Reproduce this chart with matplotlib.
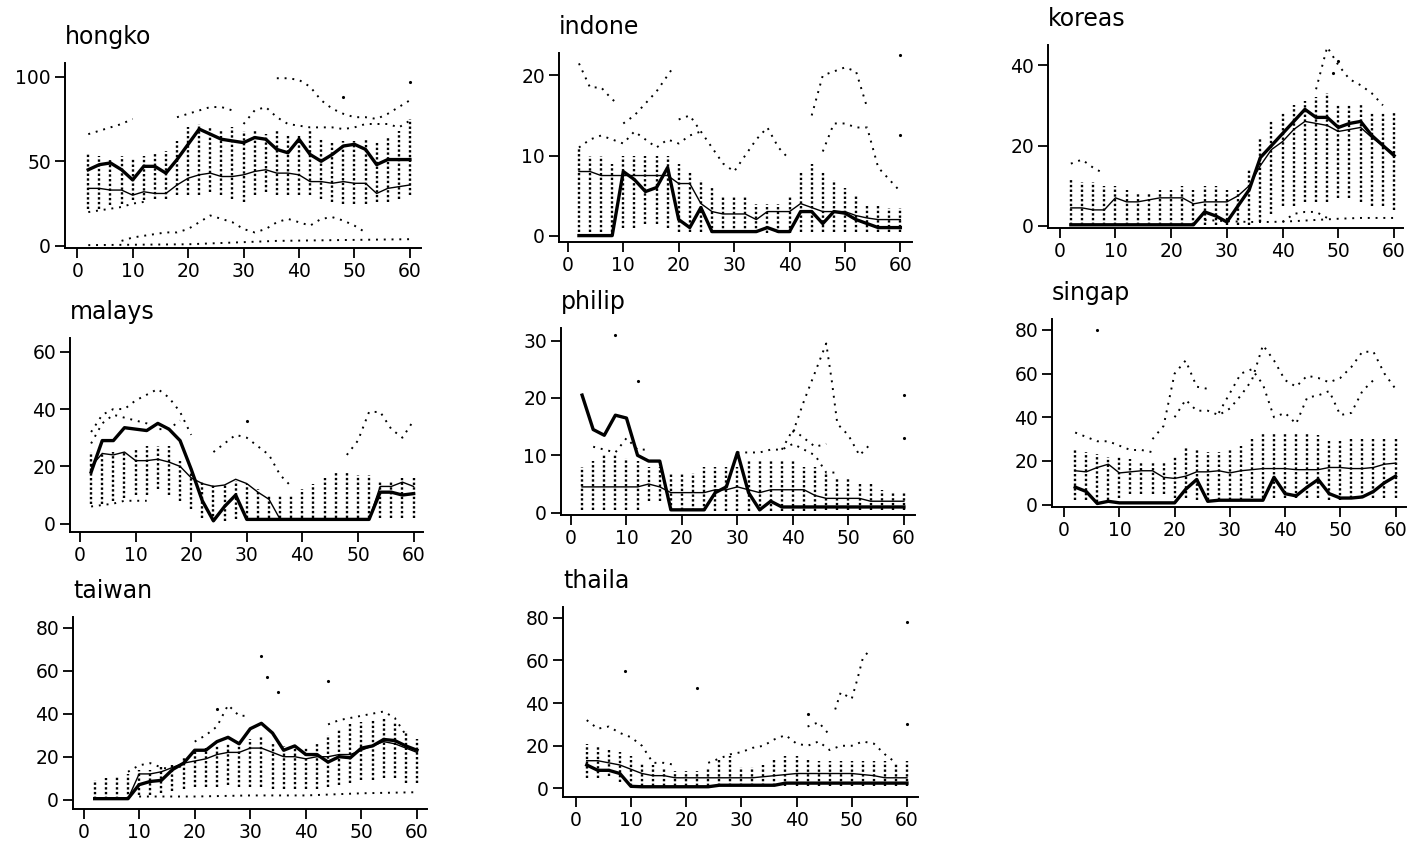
import numpy as np
import matplotlib
matplotlib.use("Agg")
import matplotlib.pyplot as plt

# common x grid (every 2 periods)
x = list(range(2, 61, 2))

# ---- hongko
hk_thick = [45,48,49,45,39,47,47,43,51,60,69,66,63,62,61,64,63,57,55,63,54,50,54,59,60,57,48,51,51,51]
hk_thin = [34,34,33,33,30,32,31,31,36,40,42,43,41,41,42,44,45,43,43,42,38,38,37,38,37,37,31,34,35,36]
hk_lo = [22,22,24,25,27,27,28,28,30,30,30,32,30,28,26,30,32,30,30,30,30,28,26,25,25,25,26,26,28,30]
hk_hi = [54,53,52,53,52,53,54,56,62,70,72,70,68,70,68,68,66,68,66,66,68,64,62,62,62,63,62,64,68,75]
hk_out = [
    ([2,4,6,8,10], [66,68,70,72,75]),
    ([2,4,6,8,10,12], [20,21,22,23,25,26]),
    ([18,20,22,24,26,28], [76,78,80,82,82,80]),
    ([30,32,34,36,38,40,42,44,46,48,50,52,54,56,58,60], [72,80,82,76,72,71,70,70,70,69,70,72,72,72,70,74]),
    ([36,38,40,42,44,46,48,50,52,54,56,58,60], [99,99,98,94,86,81,78,76,76,75,78,82,86]),
    ([2,20,36,60], [0.5,1,3,4]),
    ([8,10,12,14,16,18,20,22,24,26,28,30,32,34,36,38,40,42,44,46,48,50,52],
     [3,5,6,7,8,8,10,14,18,16,14,10,8,10,14,16,14,12,16,17,15,12,8]),
]
hk_pts = ([60, 48], [97, 88])

# ---- indone
id_thick = [0,0,0,0,8,7,5.5,6,8.5,2,1,3.5,0.5,0.5,0.5,0.5,0.5,1,0.5,0.5,3,3,1.5,3,2.8,2,1.5,1,1,1]
id_thin = [8,8,7.5,7.5,7.5,7.5,7.5,7.5,7.5,6.5,6.5,4,3,2.7,2.7,2.7,2,3,3,3,4,3.5,3,3,3,2.5,2.2,2,2,2]
id_lo = [0.5,0.5,0.5,0.5,1,1,1.5,1.5,1,0.5,0.5,0.5,0.3,0.3,0.3,0.3,0.3,0.3,0.3,0.3,0.5,0.5,0.5,0.5,0.5,0.5,0.5,0.5,0.5,0.5]
id_hi = [11,10,10,9,10,10,10,10,10,9,8,7,6,5,5,5,4,4,4,5,8,9,8,7,6,5,4,4,3.5,3.5]
id_out = [
    ([2,4,6,8,9], [21.5,18.5,18.5,17,16.5]),
    ([10,12,14,16,18,19], [14,15,16.5,18,20,21]),
    ([2,4,6,8,10,12,14,16,18,20,22,24], [11,12,12.5,12,11.5,13,12,11,12,11.5,12.5,13]),
    ([20,22,24,26,28,30,32,34,36,38,40], [14.5,15,13,11,9,8,10,12,13.5,11,9.5]),
    ([44,46,48,50,52,54], [15,20,20.5,21,20.5,16]),
    ([46,48,50,52,54,56,58,60], [10.5,14,14,13.5,13.5,8.5,7,5.5]),
]
id_pts = ([60, 60], [22.5, 12.5])

# ---- koreas
kr_thick = [0.3,0.3,0.3,0.3,0.3,0.3,0.3,0.3,0.3,0.3,0.3,0.3,3.5,2.5,1,5,9,17,20,23,26,29,27,27,24.5,25.5,26,22.5,20,17.5]
kr_thin = [4.5,4.5,4,4,7,6,6,6.5,7,7,7,5.5,6,6,6,7.5,10,15,19,21,24,26,25.5,25,23.5,24,24.5,22,20,18]
kr_lo = [0.3,0.3,0.3,0.3,0.3,0.3,0.3,0.3,0.3,0.3,0.3,0.3,0.3,0.3,0.3,0.3,0.3,1,3,5,5,6,6,6,7,7,6,5,5,4]
kr_hi = [12,11,11,10,10,9,8,8,9,9,10,9,10,10,9,9,14,22,26,28,30,31,32,33,30,30,30,28,28,28]
kr_out = [
    ([2,4,6,8], [15.5,16.5,14.5,13]),
    ([46,48,50,52,54,56,58], [34,44.5,40,36.5,35,33,30]),
    ([26,30,34,38,42,46,50,54,58,60], [1.5,1.2,1,1,1.2,1.5,1.8,2,2,2]),
    ([40,42,44,46,48], [1,3,3.5,3.5,2]),
]
kr_pts = ([50, 49], [41, 38])

# ---- malays
ml_thick = [18,29,29,33.5,33,32.5,35,33,29,19,8,1,6,10,1.5,1.5,1.5,1.5,1.5,1.5,1.5,1.5,1.5,1.5,1.5,1.5,11,11,10,10.5]
ml_thin = [20,24.5,24,25,22,22,22.5,21.5,20,16,14,13,13.5,15.5,14,11,8.5,1.5,1.5,1.5,1.5,1.5,1.5,1.5,1.5,1.5,13,13,14.5,13]
ml_lo = [7,7,8,9,10,10,12,10,8,5,2,1,1,1.5,2,2,2,2,2,2,2,2,2,2,2,2,2,2,2,2]
ml_hi = [25,25,25,25,26,27,27,27,22,18,15,14,14,15,14,12,10,10,10,12,14,16,18,18,17,17,15,15,16,16]
ml_out = [
    ([2,4,6,8,10,12,14,16,18,20], [32,38,40,40,43,45,47,44,39,31]),
    ([2,4,6,8,10,12,14,16,18], [28,35,38,37,36,35,33,33,36]),
    ([24,26,28,30,32,34,36,38], [25,28,31,30,27,24,17,13]),
    ([48,50,52,54,56,58,60], [24,29,39,39,33,30,36]),
    ([2,4,6,8,10,12], [6,6.5,7,8,8,8]),
]
ml_pts = ([30], [36])

# ---- philip
ph_thick = [20.5,14.5,13.5,17,16.5,10,9,9,0.5,0.5,0.5,0.5,3.5,4.5,10.5,3.5,0.5,2,1,1,1,1,1,1,1,1,1,1,1,1]
ph_thin = [4.5,4.5,4.5,4.5,4.5,4.5,5,4.5,3.5,3.5,3.5,3.5,4,4,4.5,4,3.5,4,4,4,4,3,2.5,2.5,2.5,2.5,2,2,2,2]
ph_lo = [0.5,0.5,0.5,0.5,0.5,0.5,2,2,0.5,0.5,0.3,0.3,0.3,0.3,0.3,0.3,0.3,0.3,0.3,0.3,0.3,0.3,0.5,0.5,0.5,0.5,0.5,0.5,0.5,0.5]
ph_hi = [8,9,10,10,9.5,9,8,8,7,7,7,8,8,8,8,9,9,9,9,9,8,8,7,6,6,5,5,4,3.5,3.5]
ph_out = [
    ([30,32,34,36,38,40,42,44,46,48], [10.5,10.5,10.5,11,11,12,11,10,7,7]),
    ([40,42,44,46,47,48,50,52,54], [14,19.5,24.5,29.5,23,15.5,13.5,10,12]),
    ([38,40,42,44,46], [11,14.5,13,11.5,12]),
    ([4,6,8,10,12,14], [11.5,11,10.5,13,11,11]),
]
ph_pts = ([60, 60, 8, 12], [20.5, 13, 31, 23])

# ---- singap
sg_thick = [8,6,0.5,1.5,0.8,0.8,0.8,0.8,0.8,0.8,7,11.5,1.5,2,2,2,2,2,12.5,5,4,8,11.5,5,3,3,3.5,6,10,13]
sg_thin = [15.5,15,17,18.5,14.5,15,15.5,15.5,12.5,12,13,15,15,15.5,14.5,15.5,16,16.5,16.5,16.5,16,16,16,17,17,16.5,16.5,17,18.5,19]
sg_lo = [2,2,1,2,3,5,5,5,5,3,3,2,2,2,2,2,3,3,3,3,3,3,3,2,2,3,3,3,3,3]
sg_hi = [25,24,23,22,22,21,20,20,20,22,26,25,24,24,25,27,30,33,33,33,33,33,32,30,30,30,30,30,30,30]
sg_out = [
    ([2,4,6,8,10,12,14,16], [33,31,29,29,27,25,25,24]),
    ([16,18,20,22,24,26], [30,36,60,66,54,53]),
    ([20,22,24,26,28,30,32,34,36,38,40,42,44,46,48,50,52,54,56,58,60],
     [40,48,43,43,41,44,50,57,73,66,57,54,59,58,56,58,63,70,70,60,53]),
    ([28,30,32,34,36,38,40,42,44,46,48,50,52,54,56], [42,51,60,62,55,40,42,37,49,50,52,41,42,52,57]),
]
sg_pts = ([6], [80])

# ---- taiwan
tw_thick = [0.5,0.5,0.5,0.5,7,8.5,9,14,17,23,23,27,29,26,33,35.5,31,23,25,21,21,17.5,20,19.5,24,25,28,27.5,25,23]
tw_thin = [0.5,0.5,0.5,0.5,12,12,13,15,17,18,19,21,22,22,24,24,22,20,20,19,20,20,21,21,23,25,27,26,24,22]
tw_lo = [0.5,0.5,0.5,0.5,2,2,3,4,5,6,6,6,7,6,6,6,5,5,5,5,5,6,7,8,9,9,10,10,8,8]
tw_hi = [9,10,11,12,14,14,15,17,20,22,24,25,26,27,28,29,27,25,24,24,26,30,33,35,36,37,38,36,32,28]
tw_out = [
    ([20,22,24,26,28,30], [27,30,34,44,39,39]),
    ([10,20,30,40,50,60], [1.5,1.5,2,2,3,3.5]),
    ([8,10,12,14,16,18], [13,16,17,15,14,16]),
    ([44,46,48,50,52,54,56,58], [35,37,38,39,40,41,38,30]),
]
tw_pts = ([32, 33, 35, 44, 24], [67, 57, 50, 55, 42])

# ---- thaila
th_thick = [11,8.5,8.5,7,1,0.8,0.8,0.8,0.8,0.8,0.8,0.8,1.5,1.5,1.5,1.5,1.5,1.5,2.5,2.5,2.5,2.5,2.5,2.5,2.5,2.5,2.5,2.5,2.5,2.5]
th_thin = [13,13,12,11,9,7,6,6,5,5,5,5,5,5,5,5,5.5,6,6.5,7,7,7,7,7,7,6.5,6,5,5,5]
th_lo = [5,5,6,3,1,1,1,1,1,1,1,1,1,1,1,1,1,1,1,1,1,1,1,1,1,1,1,1,1,1]
th_hi = [21,20,19,17,15,12,11,9,8,8,8,9,14,15,10,10,11,14,15,15,14,13,13,13,13,13,13,13,12,13]
th_out = [
    ([2,4,6,8,10,12,14,16,18], [32,28,29,26,24,20,12,12,11]),
    ([24,26,28,30,32,34,36,38,40,42,44,46,48,50,52,54,56,58],
     [12,14,16,17,19,20,23,25,21,20,22,18,20,20,22,21,16,12]),
    ([42,44,46], [29,31,25]),
    ([47,48,50,51,52,53], [37,45,42,51,61,64]),
]
th_pts = ([60, 60, 9, 22, 42], [78, 30, 55, 47, 35])

# name, data, yticks, pixel box (left, right, top, bottom), xlim, ylim
panels = [
    ("hongko", (hk_thick, hk_thin, hk_lo, hk_hi, hk_out, hk_pts), [0, 50, 100], (65, 421, 63, 248), (-2.2, 62), (-1.2, 108)),
    ("indone", (id_thick, id_thin, id_lo, id_hi, id_out, id_pts), [0, 10, 20], (559, 912, 53, 242), (-1.6, 62.1), (-0.8, 22.8)),
    ("koreas", (kr_thick, kr_thin, kr_lo, kr_hi, kr_out, kr_pts), [0, 20, 40], (1048, 1403, 45, 228), (-2.1, 61.6), (-0.5, 45)),
    ("malays", (ml_thick, ml_thin, ml_lo, ml_hi, ml_out, ml_pts), [0, 20, 40, 60], (70, 423, 338, 532), (-1.8, 61.7), (-2.9, 64.8)),
    ("philip", (ph_thick, ph_thin, ph_lo, ph_hi, ph_out, ph_pts), [0, 10, 20, 30], (561, 915, 328, 515), (-1.8, 62), (-0.4, 32.2)),
    ("singap", (sg_thick, sg_thin, sg_lo, sg_hi, sg_out, sg_pts), [0, 20, 40, 60, 80], (1052, 1406, 319, 507), (-2.2, 61.9), (-1.1, 85)),
    ("taiwan", (tw_thick, tw_thin, tw_lo, tw_hi, tw_out, tw_pts), [0, 20, 40, 60, 80], (73, 427, 617, 809), (-1.9, 61.8), (-4.3, 84.9)),
    ("thaila", (th_thick, th_thin, th_lo, th_hi, th_out, th_pts), [0, 20, 40, 60, 80], (563, 918, 607, 797), (-2.3, 62), (-4, 85)),
]

W, H = 1407, 842
fig = plt.figure(figsize=(W / 100, H / 100), dpi=100)

for name, (thick, thin, lo, hi, outs, pts), yt, (l, r, t, b), xl, yl in panels:
    ax = fig.add_axes([l / W, 1 - b / H, (r - l) / W, (b - t) / H])
    # vertical dotted ranges of the other series
    ax.vlines(x, lo, hi, colors='k', linestyles=(0, (1, 1)), linewidth=1.7)
    for ox, oy in outs:
        ax.plot(ox, oy, color='k', linestyle=(0, (1, 3)), linewidth=1.4)
    ax.plot(pts[0], pts[1], 'k.', markersize=2.5, linestyle='none')
    ax.plot(x, thin, color='k', linewidth=1.0)
    ax.plot(x, thick, color='k', linewidth=2.4)

    ax.set_xlim(xl)
    ax.set_ylim(yl)
    ax.set_xticks([0, 10, 20, 30, 40, 50, 60])
    ax.set_yticks(yt)
    for s in ['top', 'right']:
        ax.spines[s].set_visible(False)
    for s in ['left', 'bottom']:
        ax.spines[s].set_linewidth(1.4)
    ax.tick_params(direction='out', length=7, width=1.3, labelsize=13.5, pad=3, colors='k')
    ax.annotate(name, xy=(0, 1), xycoords='axes fraction', xytext=(0, 14),
                textcoords='offset points', ha='left', va='baseline', fontsize=17)

fig.savefig("out.png", dpi=100, facecolor='white')
